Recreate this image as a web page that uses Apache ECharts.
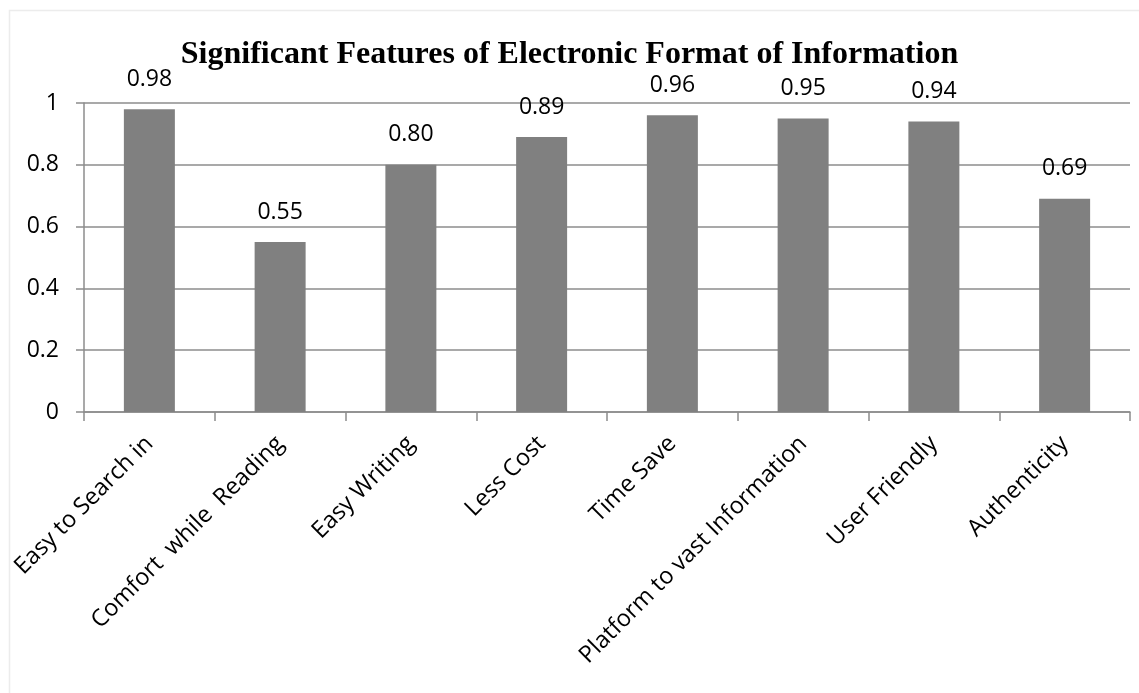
<!DOCTYPE html>
<html>
<head>
<meta charset="utf-8">
<title>Significant Features of Electronic Format of Information</title>
<script src="https://cdn.jsdelivr.net/npm/echarts@6/dist/echarts.min.js"></script>
<style>
  html, body { margin: 0; padding: 0; background: #ffffff; }
  #chart { width: 1139px; height: 693px; }
</style>
</head>
<body>
<div id="chart"></div>
<script>
// Feature names along the category axis
const categories = [
  'Easy to Search in',
  'Comfort  while  Reading',
  'Easy Writing',
  'Less Cost',
  'Time Save',
  'Platform to vast Information',
  'User Friendly',
  'Authenticity'
];

// Share of respondents naming each feature
const values = [0.98, 0.55, 0.80, 0.89, 0.96, 0.95, 0.94, 0.69];

// Value axis ticks
const yTicks = [0, 0.2, 0.4, 0.6, 0.8, 1];

const gridColor = '#8c8c8c';
const barColor = '#808080';
const textFont = '"Open Sans", "Noto Sans", sans-serif';

const chart = echarts.init(document.getElementById('chart'), null, { renderer: 'canvas' });

chart.setOption({
  backgroundColor: '#ffffff',
  animation: false,
  title: {
    text: 'Significant Features of Electronic Format of Information',
    left: 'center',
    top: 34,
    textStyle: {
      fontFamily: '"Liberation Serif", "Times New Roman", serif',
      fontWeight: 'bold',
      fontSize: 32,
      color: '#000000'
    }
  },
  graphic: [{
    type: 'rect',
    shape: { x: 9.5, y: 10.5, width: 1200, height: 800 },
    style: { fill: 'none', stroke: '#ececec', lineWidth: 1.5 },
    silent: true,
    z: -1
  }],
  grid: { left: 84, right: 9, top: 103, bottom: 281 },
  xAxis: {
    type: 'category',
    data: categories,
    boundaryGap: true,
    axisLine: { show: true, lineStyle: { color: gridColor, width: 1.5 } },
    axisTick: { show: true, length: 9, alignWithLabel: false, lineStyle: { color: gridColor, width: 1.5 } },
    axisLabel: {
      interval: 0,
      rotate: 45,
      margin: 28,
      fontFamily: textFont,
      fontSize: 23.5,
      color: '#000000'
    },
    splitLine: { show: false }
  },
  yAxis: {
    type: 'value',
    min: yTicks[0],
    max: yTicks[yTicks.length - 1],
    interval: yTicks[1] - yTicks[0],
    axisLine: { show: true, lineStyle: { color: gridColor, width: 1.5 } },
    axisTick: { show: true, length: 8, inside: false, lineStyle: { color: gridColor, width: 1.5 } },
    axisLabel: {
      margin: 25,
      fontFamily: textFont,
      fontSize: 23,
      color: '#000000',
      formatter: function (v) { return String(Math.round(v * 10) / 10); }
    },
    splitLine: { show: true, lineStyle: { color: gridColor, width: 1.5 } }
  },
  series: [{
    type: 'bar',
    data: values,
    barCategoryGap: '61%',
    itemStyle: { color: barColor },
    label: {
      show: true,
      position: 'top',
      distance: 18,
      fontFamily: textFont,
      fontSize: 23,
      lineHeight: 24,
      color: '#000000',
      formatter: function (p) { return p.value.toFixed(2); }
    }
  }]
});
</script>
</body>
</html>
